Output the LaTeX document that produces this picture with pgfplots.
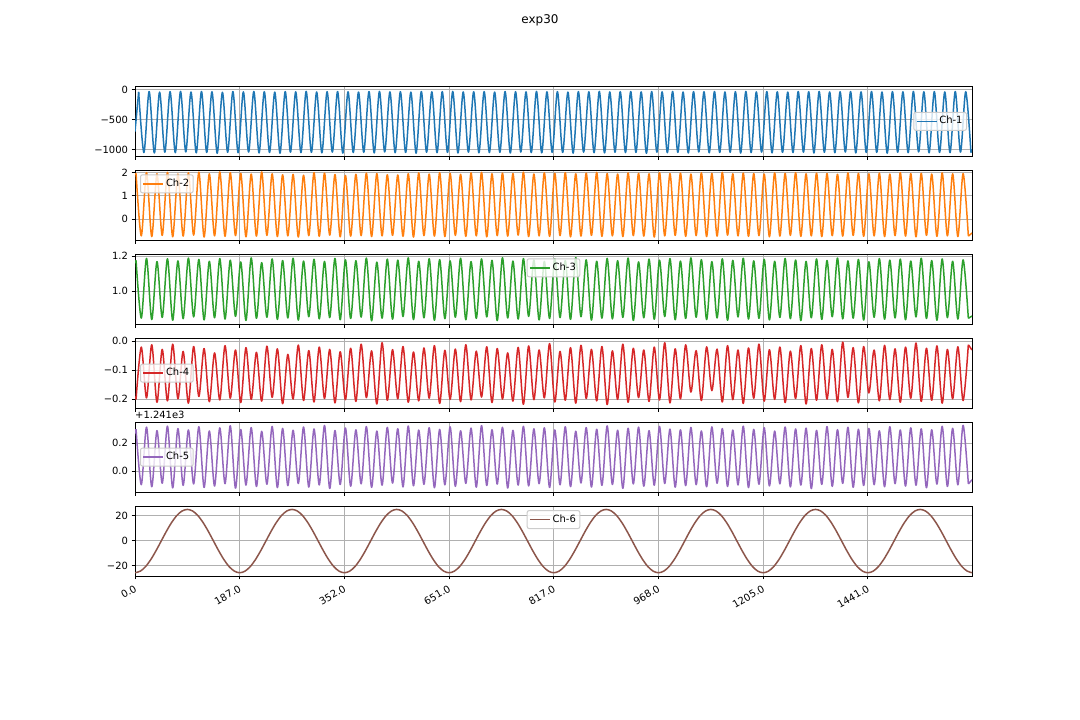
\documentclass[border=0pt]{standalone}
\usepackage{fontspec}
\setmainfont{DejaVu Sans}
\usepackage{pgfplots}
\usepackage{pgfplotstable}
\pgfplotsset{compat=1.18}
\definecolor{c0}{HTML}{1F77B4}
\definecolor{c1}{HTML}{FF7F0E}
\definecolor{c2}{HTML}{2CA02C}
\definecolor{c3}{HTML}{D62728}
\definecolor{c4}{HTML}{9467BD}
\definecolor{c5}{HTML}{8C564B}
\definecolor{gridc}{HTML}{B0B0B0}
\definecolor{legc}{HTML}{CCCCCC}

% x: extrema of Ch-2..Ch-5, x1: extrema of Ch-1
\pgfplotstableread{
x x1 a b c d e
0 0 -700 1.90 1.16 -0.19 0.27
2 7 -35 1.96 1.175 -0.200 0.300
12 17 -1050 -0.72 0.848 -0.020 -0.095
22 27 -30 1.99 1.186 -0.195 0.315
32 37 -1058 -0.75 0.840 -0.012 -0.110
42 47 -40 1.94 1.168 -0.210 0.290
52 57 -1045 -0.70 0.852 -0.028 -0.085
62 67 -32 2.00 1.184 -0.205 0.322
72 77 -1052 -0.76 0.836 -0.010 -0.118
82 87 -28 1.93 1.172 -0.198 0.305
92 97 -1040 -0.73 0.845 -0.035 -0.100
102 107 -38 1.98 1.188 -0.213 0.295
112 117 -1055 -0.69 0.855 -0.018 -0.090
122 127 -30 2.01 1.180 -0.190 0.318
132 137 -1048 -0.77 0.838 -0.025 -0.115
142 147 -34 1.94 1.170 -0.208 0.288
152 157 -1062 -0.72 0.850 -0.040 -0.105
162 167 -42 2.02 1.185 -0.202 0.310
172 177 -1046 -0.74 0.843 -0.015 -0.088
182 187 -30 1.99 1.176 -0.196 0.325
192 197 -1053 -0.71 0.858 -0.030 -0.120
202 207 -36 1.96 1.166 -0.211 0.298
212 217 -1042 -0.76 0.835 -0.022 -0.098
222 227 -29 1.93 1.189 -0.200 0.312
232 237 -1057 -0.73 0.847 -0.038 -0.108
242 247 -33 2.02 1.162 -0.206 0.285
252 257 -1049 -0.70 0.853 -0.017 -0.092
262 267 -40 1.94 1.183 -0.193 0.320
272 277 -1060 -0.75 0.841 -0.026 -0.116
282 287 -31 1.90 1.174 -0.215 0.306
292 297 -1044 -0.72 0.849 -0.045 -0.102
302 307 -35 1.92 1.187 -0.199 0.293
312 317 -1051 -0.77 0.837 -0.013 -0.087
322 327 -28 1.88 1.171 -0.204 0.316
332 337 -1047 -0.71 0.856 -0.032 -0.112
342 347 -37 1.99 1.181 -0.209 0.302
352 357 -1055 -0.74 0.844 -0.020 -0.097
362 367 -33 1.97 1.169 -0.197 0.327
372 377 -1043 -0.69 0.851 -0.028 -0.122
382 387 -30 1.91 1.186 -0.212 0.291
392 397 -1059 -0.76 0.839 -0.036 -0.094
402 407 -34 1.87 1.178 -0.201 0.309
412 417 -1050 -0.73 0.846 -0.024 -0.106
422 427 -39 1.92 1.173 -0.207 0.296
432 437 -1046 -0.71 0.854 -0.010 -0.089
442 447 -31 1.97 1.188 -0.194 0.319
452 457 -1056 -0.75 0.833 -0.033 -0.114
462 467 -28 1.95 1.165 -0.216 0.287
472 477 -1041 -0.72 0.848 -0.005 -0.099
482 487 -36 1.90 1.182 -0.203 0.313
492 497 -1053 -0.70 0.842 -0.029 -0.084
502 507 -33 1.89 1.176 -0.198 0.304
512 517 -1049 -0.74 0.857 -0.018 -0.111
522 527 -40 1.94 1.189 -0.210 0.323
532 537 -1061 -0.77 0.840 -0.037 -0.103
542 547 -30 1.98 1.170 -0.205 0.294
552 557 -1045 -0.71 0.850 -0.023 -0.093
562 567 -35 1.93 1.184 -0.196 0.311
572 577 -1052 -0.73 0.836 -0.015 -0.117
582 587 -32 1.99 1.179 -0.214 0.299
592 597 -1048 -0.75 0.845 -0.031 -0.096
602 607 -29 1.96 1.172 -0.200 0.317
612 617 -1057 -0.70 0.853 -0.027 -0.107
622 627 -37 1.92 1.187 -0.208 0.289
632 637 -1044 -0.74 0.839 -0.012 -0.086
642 647 -34 1.98 1.168 -0.202 0.308
652 657 -1054 -0.72 0.847 -0.034 -0.113
662 667 -31 2.00 1.183 -0.192 0.326
672 677 -1050 -0.76 0.855 -0.019 -0.101
682 687 -38 1.94 1.175 -0.211 0.297
692 697 -1046 -0.71 0.834 -0.025 -0.091
702 707 -30 1.97 1.190 -0.199 0.314
712 717 -1058 -0.73 0.849 -0.040 -0.119
722 727 -33 1.95 1.171 -0.206 0.292
732 737 -1042 -0.69 0.843 -0.021 -0.098
742 747 -36 2.01 1.185 -0.217 0.321
752 757 -1051 -0.75 0.858 -0.016 -0.104
762 767 -29 1.93 1.177 -0.201 0.303
772 777 -1055 -0.72 0.838 -0.030 -0.088
782 787 -35 1.98 1.169 -0.195 0.310
792 797 -1047 -0.74 0.846 -0.008 -0.115
802 807 -32 1.96 1.184 -0.209 0.295
812 817 -1049 -0.71 0.851 -0.035 -0.096
822 827 -40 1.99 1.174 -0.203 0.318
832 837 -1060 -0.76 0.841 -0.022 -0.109
842 847 -31 1.94 1.191 -0.213 0.286
852 857 -1043 -0.73 0.856 -0.014 -0.083
862 867 -34 1.97 1.178 -0.197 0.312
872 877 -1053 -0.70 0.837 -0.028 -0.112
882 887 -28 2.00 1.170 -0.205 0.300
892 897 -1056 -0.74 0.848 -0.018 -0.100
902 907 -37 1.95 1.186 -0.218 0.324
912 917 -1045 -0.72 0.844 -0.033 -0.094
922 927 -33 1.93 1.173 -0.200 0.293
932 937 -1050 -0.75 0.852 -0.010 -0.121
942 947 -30 1.98 1.188 -0.210 0.307
952 957 -1048 -0.71 0.835 -0.024 -0.090
962 967 -36 1.96 1.166 -0.194 0.315
972 977 -1062 -0.73 0.850 -0.030 -0.106
982 987 -31 1.94 1.182 -0.207 0.290
992 997 -1044 -0.77 0.842 -0.020 -0.099
1002 1007 -35 1.99 1.176 -0.202 0.320
1012 1017 -1052 -0.72 0.857 -0.005 -0.087
1022 1027 -29 1.95 1.185 -0.212 0.301
1032 1037 -1047 -0.70 0.839 -0.026 -0.113
1042 1047 -38 1.97 1.171 -0.198 0.296
1052 1057 -1057 -0.74 0.846 -0.012 -0.102
1062 1067 -32 1.93 1.189 -0.175 0.313
1072 1077 -1041 -0.71 0.853 -0.032 -0.095
1082 1087 -34 1.98 1.179 -0.204 0.288
1092 1097 -1054 -0.75 0.840 -0.019 -0.110
1102 1107 -30 1.96 1.168 -0.170 0.317
1112 1117 -1049 -0.73 0.849 -0.027 -0.085
1122 1127 -37 2.00 1.184 -0.209 0.305
1132 1137 -1046 -0.69 0.836 -0.015 -0.108
1142 1147 -33 1.94 1.175 -0.201 0.294
1152 1157 -1059 -0.72 0.855 -0.030 -0.097
1162 1167 -28 1.97 1.187 -0.214 0.322
1172 1177 -1051 -0.74 0.843 -0.023 -0.116
1182 1187 -36 1.95 1.172 -0.196 0.299
1192 1197 -1043 -0.71 0.847 -0.010 -0.092
1202 1207 -31 1.93 1.181 -0.206 0.311
1212 1217 -1055 -0.76 0.838 -0.029 -0.104
1222 1227 -35 1.98 1.170 -0.200 0.287
1232 1237 -1048 -0.73 0.852 -0.020 -0.089
1242 1247 -40 1.96 1.186 -0.211 0.316
1252 1257 -1050 -0.70 0.845 -0.034 -0.111
1262 1267 -30 1.99 1.177 -0.197 0.302
1272 1277 -1044 -0.74 0.834 -0.015 -0.098
1282 1287 -33 1.94 1.169 -0.216 0.308
1292 1297 -1058 -0.72 0.850 -0.025 -0.123
1302 1307 -29 1.97 1.183 -0.203 0.292
1312 1317 -1046 -0.75 0.841 -0.012 -0.093
1322 1327 -37 1.95 1.174 -0.199 0.319
1332 1337 -1053 -0.71 0.856 -0.028 -0.107
1342 1347 -34 1.92 1.188 -0.208 0.297
1352 1357 -1042 -0.73 0.844 -0.003 -0.086
1362 1367 -31 1.98 1.172 -0.193 0.314
1372 1377 -1056 -0.70 0.848 -0.022 -0.114
1382 1387 -36 1.96 1.180 -0.212 0.300
1392 1397 -1049 -0.74 0.837 -0.018 -0.101
1402 1407 -30 1.94 1.167 -0.178 0.306
1412 1417 -1047 -0.72 0.853 -0.030 -0.095
1422 1427 -38 1.97 1.185 -0.205 0.289
1432 1437 -1060 -0.75 0.842 -0.014 -0.110
1442 1447 -32 1.93 1.176 -0.201 0.318
1452 1457 -1045 -0.71 0.849 -0.026 -0.088
1462 1467 -35 1.99 1.182 -0.210 0.295
1472 1477 -1052 -0.73 0.839 -0.020 -0.105
1482 1487 -29 1.95 1.171 -0.196 0.310
1492 1497 -1040 -0.76 0.855 -0.006 -0.099
1502 1507 -34 1.96 1.187 -0.207 0.303
1512 1517 -1054 -0.70 0.846 -0.024 -0.117
1522 1527 -31 1.93 1.174 -0.203 0.296
1532 1537 -1048 -0.74 0.836 -0.016 -0.091
1542 1547 -37 1.98 1.183 -0.213 0.321
1552 1557 -1051 -0.72 0.851 -0.028 -0.108
1562 1567 -30 1.94 1.170 -0.198 0.307
1572 1577 -1043 -0.75 0.843 -0.019 -0.096
1582 1587 -33 1.95 1.178 -0.204 0.328
1592 1597 -1050 -0.73 0.847 -0.012 -0.090
1599 1599 -1000 -0.60 0.86 -0.03 -0.06
}\datatbl

\pgfplotstableread{
x f
0 -25.90
10 -24.66
20 -21.06
30 -15.45
40 -8.38
50 -0.55
60 7.28
70 14.35
80 19.96
90 23.56
100 24.80
110 23.56
120 19.96
130 14.35
140 7.28
150 -0.55
160 -8.38
170 -15.45
180 -21.06
190 -24.66
200 -25.90
210 -24.66
220 -21.06
230 -15.45
240 -8.38
250 -0.55
260 7.28
270 14.35
280 19.96
290 23.56
300 24.80
310 23.56
320 19.96
330 14.35
340 7.28
350 -0.55
360 -8.38
370 -15.45
380 -21.06
390 -24.66
400 -25.90
410 -24.66
420 -21.06
430 -15.45
440 -8.38
450 -0.55
460 7.28
470 14.35
480 19.96
490 23.56
500 24.80
510 23.56
520 19.96
530 14.35
540 7.28
550 -0.55
560 -8.38
570 -15.45
580 -21.06
590 -24.66
600 -25.90
610 -24.66
620 -21.06
630 -15.45
640 -8.38
650 -0.55
660 7.28
670 14.35
680 19.96
690 23.56
700 24.80
710 23.56
720 19.96
730 14.35
740 7.28
750 -0.55
760 -8.38
770 -15.45
780 -21.06
790 -24.66
800 -25.90
810 -24.66
820 -21.06
830 -15.45
840 -8.38
850 -0.55
860 7.28
870 14.35
880 19.96
890 23.56
900 24.80
910 23.56
920 19.96
930 14.35
940 7.28
950 -0.55
960 -8.38
970 -15.45
980 -21.06
990 -24.66
1000 -25.90
1010 -24.66
1020 -21.06
1030 -15.45
1040 -8.38
1050 -0.55
1060 7.28
1070 14.35
1080 19.96
1090 23.56
1100 24.80
1110 23.56
1120 19.96
1130 14.35
1140 7.28
1150 -0.55
1160 -8.38
1170 -15.45
1180 -21.06
1190 -24.66
1200 -25.90
1210 -24.66
1220 -21.06
1230 -15.45
1240 -8.38
1250 -0.55
1260 7.28
1270 14.35
1280 19.96
1290 23.56
1300 24.80
1310 23.56
1320 19.96
1330 14.35
1340 7.28
1350 -0.55
1360 -8.38
1370 -15.45
1380 -21.06
1390 -24.66
1400 -25.90
1410 -24.66
1420 -21.06
1430 -15.45
1440 -8.38
1450 -0.55
1460 7.28
1470 14.35
1480 19.96
1490 23.56
1500 24.80
1510 23.56
1520 19.96
1530 14.35
1540 7.28
1550 -0.55
1560 -8.38
1570 -15.45
1580 -21.06
1590 -24.66
1600 -25.90
}\sixtbl

\pgfplotsset{
  base/.style={
    scale only axis, width=837bp, height=69.94bp, anchor=south west,
    xmin=0, xmax=1599,
    xtick={0,200,400,600,800,1000,1200,1400},
    xticklabels={},
    grid=major,
    major grid style={draw=gridc, line width=0.8bp},
    axis line style={line width=0.8bp, black},
    tick style={black, line width=0.8bp},
    major tick length=3.5bp,
    tick align=outside, tick pos=left,
    ticklabel style={font=\fontsize{10}{12}\selectfont},
    legend cell align=left,
    legend image code/.code={\draw[##1, line width=1.5bp, draw opacity=1] (0bp,0bp) -- (20bp,0bp);},
    legend style={font=\fontsize{10}{12}\selectfont, draw=legc, line width=1bp,
      rounded corners=2bp, fill=white, fill opacity=0.8, text opacity=1,
      inner xsep=2bp, inner ysep=2bp,
      nodes={inner sep=2bp, text height=7.5bp, text depth=2.5bp}},
  },
  ln/.style={line width=1.5bp, smooth, line join=round},
}
% main smooth part (extrema rows 1..160), then straight first and last segments
\newcommand{\chplot}[3]{%
  \addplot[#1, ln, skip coords between index={0}{1}, skip coords between index={161}{162}] table[x=#2, y=#3] {\datatbl};
  \addplot[#1, line width=1.5bp, forget plot, skip coords between index={2}{162}] table[x=#2, y=#3] {\datatbl};
  \addplot[#1, line width=1.5bp, forget plot, skip coords between index={0}{160}] table[x=#2, y=#3] {\datatbl};
}

\begin{document}
\begin{tikzpicture}
\path[use as bounding box] (0,0) rectangle (1080bp,720bp);
\node[anchor=north, font=\fontsize{12}{14.4}\selectfont, inner sep=0pt] at (540bp,705.6bp) {exp30};

\begin{axis}[base, at={(135bp,563.65bp)}, ymin=-1114, ymax=56,
  ytick={-1000,-500,0}, yticklabels={−1000,−500,0},
  legend style={at={(axis description cs:1,0.5)}, anchor=east, xshift=-5bp}]
\chplot{c0}{x1}{a}
\addlegendentry{Ch-1}
\end{axis}

\begin{axis}[base, at={(135bp,479.72bp)}, ymin=-0.91, ymax=2.09,
  ytick={0,1,2}, yticklabels={0,1,2},
  legend style={at={(axis description cs:0,1)}, anchor=north west, xshift=5bp, yshift=-4bp}]
\chplot{c1}{x}{b}
\addlegendentry{Ch-2}
\end{axis}

\begin{axis}[base, at={(135bp,395.79bp)}, ymin=0.8136, ymax=1.2096,
  ytick={1.0,1.2}, yticklabels={1.0,1.2},
  legend style={at={(axis description cs:0.5,1)}, anchor=north, yshift=-4bp}]
\chplot{c2}{x}{c}
\addlegendentry{Ch-3}
\end{axis}

\begin{axis}[base, at={(135bp,311.86bp)}, ymin=-0.2303, ymax=0.0107,
  ytick={-0.2,-0.1,0}, yticklabels={−0.2,−0.1,0.0},
  legend style={at={(axis description cs:0,0.5)}, anchor=west, xshift=5bp}]
\chplot{c3}{x}{d}
\addlegendentry{Ch-4}
\end{axis}

\begin{axis}[base, at={(135bp,227.93bp)}, ymin=-0.148, ymax=0.351,
  ytick={0,0.2}, yticklabels={0.0,0.2},
  legend style={at={(axis description cs:0,0.5)}, anchor=west, xshift=5bp}]
\chplot{c4}{x}{e}
\addlegendentry{Ch-5}
\end{axis}
\node[anchor=south west, inner sep=0pt, font=\fontsize{10}{12}\selectfont] at (135bp,300.9bp) {+1.241e3};

\begin{axis}[base, at={(135bp,144bp)}, ymin=-28.5, ymax=27.5,
  ytick={-20,0,20}, yticklabels={−20,0,20},
  xticklabels={0.0,187.0,352.0,651.0,817.0,968.0,1205.0,1441.0},
  xticklabel style={rotate=30, anchor=north east, inner sep=0pt, xshift=-3.6bp, yshift=-3.5bp},
  legend style={at={(axis description cs:0.5,1)}, anchor=north, yshift=-4bp}]
\addplot[c5, ln] table[x=x, y=f] {\sixtbl};
\addlegendentry{Ch-6}
\end{axis}
\end{tikzpicture}
\end{document}
